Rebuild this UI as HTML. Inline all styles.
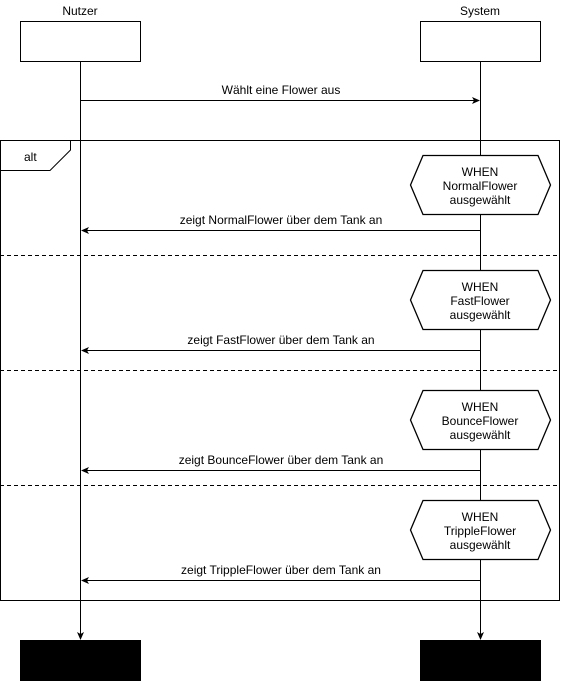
<!DOCTYPE html>
<html><head><meta charset="utf-8"><style>
body{margin:0;background:#fff}
svg text{font-family:"Liberation Sans",sans-serif;font-size:12px;fill:#000}
</style></head><body>
<svg width="562" height="681" viewBox="0 0 562 681" xmlns="http://www.w3.org/2000/svg">
<defs><marker id="a" markerWidth="8" markerHeight="8" refX="7" refY="4" orient="auto" markerUnits="userSpaceOnUse"><path d="M0,0.5 L8,4 L0,7.5 L2,4 Z" fill="#000"/></marker></defs>
<rect width="562" height="681" fill="#fff"/>
<text x="80" y="15" text-anchor="middle">Nutzer</text>
<text x="480" y="15" text-anchor="middle">System</text>
<rect x="20.5" y="21.5" width="120" height="40" fill="#fff" stroke="#000"/>
<rect x="420.5" y="21.5" width="120" height="40" fill="#fff" stroke="#000"/>
<line x1="80.5" y1="61" x2="80.5" y2="639" stroke="#000" marker-end="url(#a)"/>
<line x1="480.5" y1="61" x2="480.5" y2="639" stroke="#000" marker-end="url(#a)"/>
<rect x="20" y="640" width="121" height="41" fill="#000"/>
<rect x="420" y="640" width="121" height="41" fill="#000"/>
<line x1="80" y1="100.5" x2="479" y2="100.5" stroke="#000" marker-end="url(#a)"/>
<text x="281" y="94" text-anchor="middle">Wählt eine Flower aus</text>
<rect x="0.5" y="140.5" width="559" height="460" fill="none" stroke="#000"/>
<path d="M0.5,170.5 H50 L70.5,150 V140.5" fill="none" stroke="#000"/>
<text x="24" y="161">alt</text>
<g stroke="#000" stroke-dasharray="4,3">
<line x1="0" y1="255.5" x2="560" y2="255.5"/>
<line x1="0" y1="370.5" x2="560" y2="370.5"/>
<line x1="0" y1="485.5" x2="560" y2="485.5"/>
</g>
<g fill="#fff" stroke="#000" stroke-width="1.3">
<path d="M410.5,185 L423,155.5 H538 L550.5,185 L538,214.5 H423 Z"/>
<path d="M410.5,300 L423,270.5 H538 L550.5,300 L538,329.5 H423 Z"/>
<path d="M410.5,420 L423,390.5 H538 L550.5,420 L538,449.5 H423 Z"/>
<path d="M410.5,530 L423,500.5 H538 L550.5,530 L538,559.5 H423 Z"/>
</g>
<g text-anchor="middle">
<text x="480" y="176">WHEN</text><text x="480" y="190">NormalFlower</text><text x="480" y="204">ausgewählt</text>
<text x="480" y="291">WHEN</text><text x="480" y="305">FastFlower</text><text x="480" y="319">ausgewählt</text>
<text x="480" y="411">WHEN</text><text x="480" y="425">BounceFlower</text><text x="480" y="439">ausgewählt</text>
<text x="480" y="521">WHEN</text><text x="480" y="535">TrippleFlower</text><text x="480" y="549">ausgewählt</text>
<text x="281" y="224">zeigt NormalFlower über dem Tank an</text>
<text x="281" y="344">zeigt FastFlower über dem Tank an</text>
<text x="281" y="464">zeigt BounceFlower über dem Tank an</text>
<text x="281" y="574">zeigt TrippleFlower über dem Tank an</text>
</g>
<g stroke="#000">
<line x1="480" y1="230.5" x2="82" y2="230.5" marker-end="url(#a)"/>
<line x1="480" y1="350.5" x2="82" y2="350.5" marker-end="url(#a)"/>
<line x1="480" y1="470.5" x2="82" y2="470.5" marker-end="url(#a)"/>
<line x1="480" y1="580.5" x2="82" y2="580.5" marker-end="url(#a)"/>
</g>
</svg>
</body></html>
